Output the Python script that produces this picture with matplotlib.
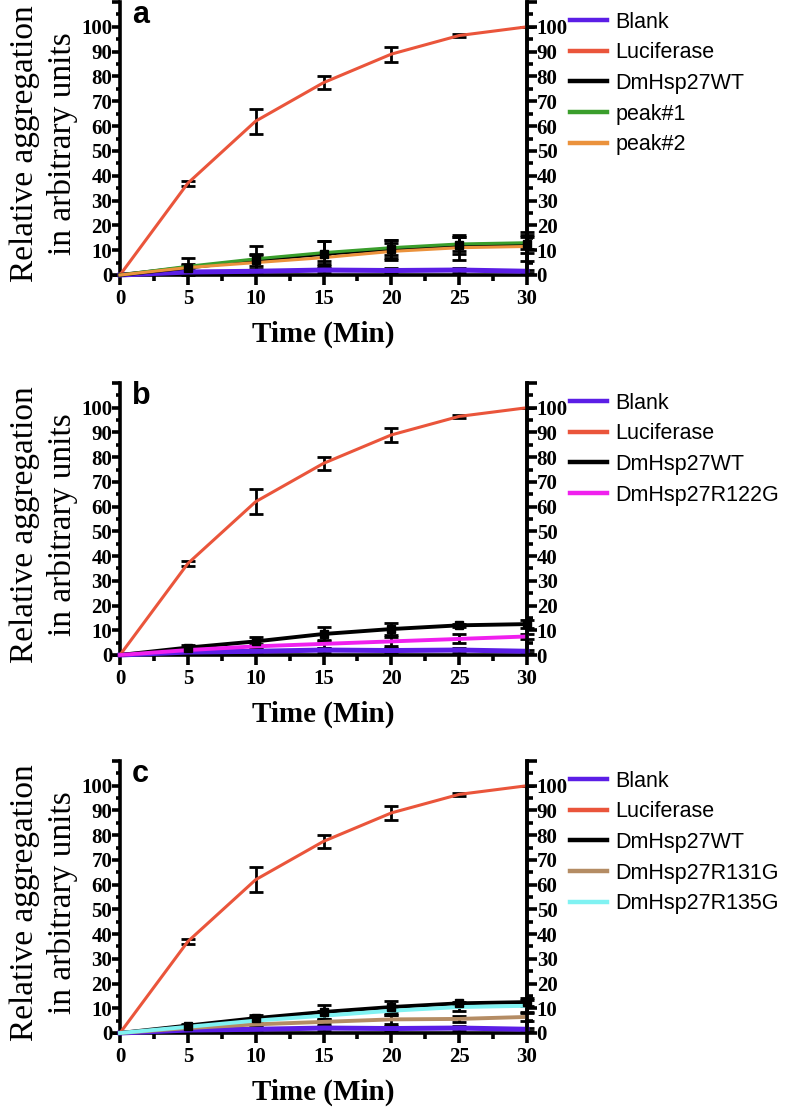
import matplotlib
matplotlib.use('Agg')
import matplotlib.pyplot as plt
from matplotlib.lines import Line2D
from matplotlib.ticker import MultipleLocator

# Time points (min)
time = [0, 5, 10, 15, 20, 25, 30]

# Shared series
blank = [0, 1.2, 1.5, 2, 1.8, 2, 1.5]
blank_err = [0, 0.5, 0.8, 1, 1, 1, 0.5]
luciferase = [0, 37, 62, 77.5, 89, 96.5, 100]
luciferase_err = [0, 1, 5, 2.5, 3, 0.5, 0]

# Panel a
wt_a = [0, 3, 6, 8.5, 10.5, 12, 12.5]
wt_a_err = [0, 1, 2.5, 5, 3.5, 3.5, 3.5]
peak1 = [0, 3.5, 6.5, 9, 11, 12.5, 13]
peak1_err = [0, 3.5, 5, 4.5, 3, 3, 2.5]
peak2 = [0, 3, 5, 7, 9.5, 11, 11.5]
peak2_err = [0, 1.5, 3, 1.5, 3.5, 5, 6]

# Panel b
wt_b = [0, 3, 5.5, 8.5, 10.5, 12, 12.5]
wt_b_err = [0, 1, 1.8, 3, 2.6, 0.5, 1.7]
r122g = [0, 2, 3.5, 4.5, 5.5, 6.5, 7.5]
r122g_err = [0, 0.5, 1, 1.5, 1.8, 1.8, 1]

# Panel c
wt_c = [0, 3, 6, 8.5, 10.5, 12, 12.5]
wt_c_err = [0, 0.8, 1.3, 2.8, 2.5, 0.7, 1.7]
r131g = [0, 2, 3.5, 4.5, 5.5, 5.7, 6.5]
r131g_err = [0, 0.5, 1, 1, 1.8, 1.2, 1.5]
r135g = [0, 2.5, 5, 7, 9, 10.5, 11]
r135g_err = [0, 0.8, 1.5, 1.8, 1.7, 1.5, 2.5]

C_BLANK = '#5b1ee6'
C_LUC = '#ea553b'
C_WT = '#000000'

panels = [
    ('a', [('Blank', blank, blank_err, C_BLANK, 3.6),
           ('Luciferase', luciferase, luciferase_err, C_LUC, 2.2),
           ('DmHsp27WT', wt_a, wt_a_err, C_WT, 2.8),
           ('peak#1', peak1, peak1_err, '#3a9e2c', 2.2),
           ('peak#2', peak2, peak2_err, '#eb923c', 2.2)]),
    ('b', [('Blank', blank, blank_err, C_BLANK, 3.6),
           ('Luciferase', luciferase, luciferase_err, C_LUC, 2.2),
           ('DmHsp27WT', wt_b, wt_b_err, C_WT, 2.8),
           ('DmHsp27R122G', r122g, r122g_err, '#f020ee', 2.8)]),
    ('c', [('Blank', blank, blank_err, C_BLANK, 3.6),
           ('Luciferase', luciferase, luciferase_err, C_LUC, 2.2),
           ('DmHsp27WT', wt_c, wt_c_err, C_WT, 2.8),
           ('DmHsp27R131G', r131g, r131g_err, '#b48c64', 2.8),
           ('DmHsp27R135G', r135g, r135g_err, '#80f2f2', 2.8)]),
]

W, H = 789, 1111
fig = plt.figure(figsize=(W / 100, H / 100), dpi=100)

serif = 'Liberation Serif'
sans = 'Liberation Sans'
tick_font = dict(family=serif, weight='bold', size=15)

# axes boxes in pixels: top of spine, y=0 line
boxes = [(2, 275), (383, 655), (761, 1033)]
left_px, right_px = 120, 527

for (letter, series), (top, bottom) in zip(panels, boxes):
    ax = fig.add_axes([left_px / W, 1 - bottom / H,
                       (right_px - left_px) / W, (bottom - top) / H])
    handles = []
    for name, y, err, col, lw in series:
        ax.errorbar(time, y, yerr=err, color=col, lw=lw, ecolor='black',
                    elinewidth=2, capsize=5, capthick=2,
                    clip_on=False, zorder=3)
        if col == C_WT:
            ax.plot(time[1:], y[1:], 's', color='black', ms=6, zorder=4,
                    clip_on=False)
        handles.append(Line2D([], [], color=col, lw=3.2, label=name))

    ax.set_xlim(0, 30)
    ax.set_ylim(0, 110)
    ax.spines['top'].set_visible(False)
    for s in ['left', 'right', 'bottom']:
        ax.spines[s].set_linewidth(2.6)

    ax.xaxis.set_minor_locator(MultipleLocator(2.5))
    ax.yaxis.set_minor_locator(MultipleLocator(5))
    ax.set_yticks(range(0, 111, 10))
    ylabels = [str(v) for v in range(0, 101, 10)] + ['']
    ax.set_yticklabels(ylabels, fontdict=tick_font)
    ax.set_xticks(range(0, 31, 5))
    ax.set_xticklabels([str(v) for v in range(0, 31, 5)], fontdict=tick_font)

    ax.tick_params(axis='x', which='major', direction='out', length=7,
                   width=2.6, pad=3)
    ax.tick_params(axis='x', which='minor', direction='out', length=4.5,
                   width=2.6)
    ax.tick_params(axis='y', which='major', direction='out', length=5.5,
                   width=2.6, pad=0)
    ax.tick_params(axis='y', which='minor', direction='out', length=3,
                   width=2.6)

    # right axis
    ax2 = ax.twinx()
    ax2.set_ylim(0, 110)
    ax2.spines['top'].set_visible(False)
    ax2.spines['left'].set_visible(False)
    ax2.spines['bottom'].set_visible(False)
    ax2.spines['right'].set_linewidth(2.6)
    ax2.set_yticks(range(0, 111, 10))
    ax2.set_yticklabels(ylabels, fontdict=tick_font)
    ax2.yaxis.set_minor_locator(MultipleLocator(5))
    ax2.tick_params(axis='y', which='major', direction='out', length=7,
                    width=2.6, pad=0)
    ax2.tick_params(axis='y', which='minor', direction='out', length=4.5,
                    width=2.6)

    ax.set_ylabel('Relative aggregation\nin arbitrary units', family=serif,
                  size=24, linespacing=1.3)
    ax.yaxis.set_label_coords(-0.103, 0.48)
    ax.set_xlabel('Time (Min)', family=serif, weight='bold', size=21)
    ax.xaxis.set_label_coords(0.5, -0.169)

    ax.text(0.03, 0.923, letter, transform=ax.transAxes, family=sans,
            weight='bold', size=22, va='baseline', ha='left')

    ax.legend(handles=handles, loc='upper left',
              bbox_to_anchor=(1.106, 0.965), frameon=False,
              prop=dict(family=sans, size=15.5), handlelength=1.7,
              handletextpad=0.4, labelspacing=0.45, borderpad=0,
              borderaxespad=0)

fig.savefig('out.png', dpi=100)
